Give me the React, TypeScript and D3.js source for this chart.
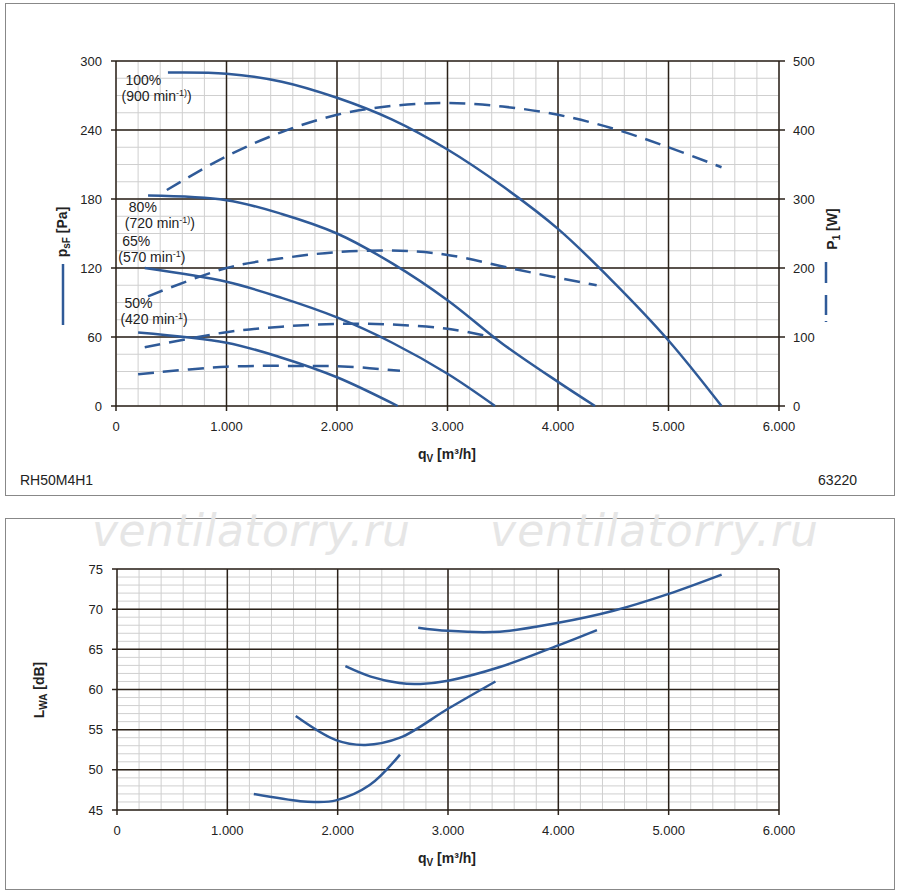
import * as d3 from 'd3';

type P = [number, number];

// pressure curves [q m3/h, psF Pa]
const PS100: P[] = [[470, 290], [1000, 289], [1500, 282], [2000, 268], [2500, 249], [3000, 223], [3500, 191], [4000, 154], [4500, 108], [5000, 57], [5480, 0]];
const PS80: P[] = [[290, 183], [1000, 179], [1500, 167], [2000, 150], [2500, 124], [3000, 92], [3500, 54], [4000, 21], [4335, 0]];
const PS65: P[] = [[260, 120], [1000, 108], [1500, 94], [2000, 77], [2500, 55], [3000, 28], [3430, 0]];
const PS50: P[] = [[200, 64], [1000, 55], [1500, 42], [2000, 25], [2550, 0]];
// power curves [q, P1 W]
const PW100: P[] = [[460, 313], [1000, 362], [1500, 397], [2000, 422], [2500, 435], [3000, 439], [3500, 434], [4000, 422], [4500, 402], [5000, 375], [5480, 346]];
const PW80: P[] = [[290, 159], [1000, 200], [1500, 214], [2000, 223], [2570, 225], [3000, 219], [3650, 197], [4350, 175]];
const PW65: P[] = [[260, 85], [1000, 107], [1500, 115], [2000, 119], [2500, 118], [3000, 112], [3430, 99]];
const PW50: P[] = [[200, 46], [1000, 57], [1670, 58], [2100, 57], [2570, 51]];
// sound power [q, LWA dB]
const L100: P[] = [[2730, 67.7], [3000, 67.3], [3470, 67.2], [4000, 68.3], [4500, 69.8], [5000, 71.9], [5480, 74.3]];
const L80: P[] = [[2070, 62.9], [2300, 61.6], [2560, 60.8], [2750, 60.7], [3000, 61.1], [3470, 62.8], [4000, 65.5], [4350, 67.4]];
const L65: P[] = [[1620, 56.7], [1985, 53.7], [2250, 53.1], [2565, 54], [3000, 57.6], [3430, 61]];
const L50: P[] = [[1240, 47], [1660, 46.1], [1800, 46], [1985, 46.2], [2290, 48.1], [2565, 51.9]];

const SPEED_LABELS = [
  { pct: '100%', rpm: '900', sup: '-1)', q: 50, p: 279 },
  { pct: '80%', rpm: '720', sup: '-1)', q: 80, p: 169 },
  { pct: '65%', rpm: '570', sup: '-1', q: 20, p: 139 },
  { pct: '50%', rpm: '420', sup: '-1', q: 40, p: 85 },
];

const X_TICKS = [0, 1000, 2000, 3000, 4000, 5000, 6000];
const PS_TICKS = [0, 60, 120, 180, 240, 300];
const PW_TICKS = [0, 100, 200, 300, 400, 500];
const L_TICKS = [45, 50, 55, 60, 65, 70, 75];

const BLUE = '#2f5a98';
const MAJOR = '#2a2118';
const MINOR = '#cfcfcf';
const FONT = 'Liberation Sans, Arial, sans-serif';
const fmt = (v: number) => (v === 0 ? '0' : d3.format(',')(v).replace(/,/g, '.'));

function Grid({ x, y, xMinor, yMinor, xMajor, yMajor }: any) {
  const [x0, x1] = x.range();
  const [y0, y1] = y.range();
  return (
    <g>
      {xMinor.map((v: number) => <line key={'xm' + v} x1={x(v)} x2={x(v)} y1={y0} y2={y1} stroke={MINOR} strokeWidth={1} />)}
      {yMinor.map((v: number) => <line key={'ym' + v} x1={x0} x2={x1} y1={y(v)} y2={y(v)} stroke={MINOR} strokeWidth={1} />)}
      {xMajor.map((v: number) => <line key={'xM' + v} x1={x(v)} x2={x(v)} y1={y0 + 5} y2={y1} stroke={MAJOR} strokeWidth={1.5} />)}
      {yMajor.map((v: number) => <line key={'yM' + v} x1={x0 - 5} x2={x1} y1={y(v)} y2={y(v)} stroke={MAJOR} strokeWidth={1.5} />)}
      {xMajor.map((v: number) => (
        <text key={'xl' + v} x={x(v)} y={y0 + 25} textAnchor="middle" fontSize={13} fill="#222">{fmt(v)}</text>
      ))}
      {yMajor.map((v: number) => (
        <text key={'yl' + v} x={x0 - 14} y={y(v) + 4.5} textAnchor="end" fontSize={13} fill="#222">{v}</text>
      ))}
    </g>
  );
}

export default function App() {
  const x1 = d3.scaleLinear().domain([0, 6000]).range([116, 779]);
  const yP = d3.scaleLinear().domain([0, 300]).range([406, 61]);
  const yW = d3.scaleLinear().domain([0, 500]).range([406, 61]);
  const x2 = d3.scaleLinear().domain([0, 6000]).range([117, 779]);
  const yL = d3.scaleLinear().domain([45, 75]).range([810, 569]);

  const xMinor = d3.range(0, 6001, 200);
  const lineP = d3.line<P>().x(d => x1(d[0])).y(d => yP(d[1])).curve(d3.curveCatmullRom);
  const lineW = d3.line<P>().x(d => x1(d[0])).y(d => yW(d[1])).curve(d3.curveCatmullRom);
  const lineL = d3.line<P>().x(d => x2(d[0])).y(d => yL(d[1])).curve(d3.curveCatmullRom);

  return (
    <svg width={900} height={894} style={{ position: 'absolute', left: 0, top: 0 }} fontFamily={FONT}>
      <rect x={0} y={0} width={900} height={894} fill="#fff" />
      <rect x={5.5} y={3.5} width={889} height={492} fill="none" stroke="#888" />
      <rect x={5.5} y={518.5} width={889} height={371} fill="none" stroke="#888" />

      {/* watermark */}
      <g fontSize={44} fontStyle="italic" fill="#e6e6e6" fontFamily="DejaVu Sans, sans-serif">
        <text x={92} y={546} textLength={318}>ventilatorry.ru</text>
        <text x={490} y={546} textLength={328}>ventilatorry.ru</text>
      </g>

      {/* top chart */}
      <Grid x={x1} y={yP} xMinor={xMinor} yMinor={d3.range(0, 301, 15)} xMajor={X_TICKS} yMajor={PS_TICKS} />
      {PW_TICKS.map(v => (
        <g key={'pw' + v}>
          <line x1={779} x2={785} y1={yW(v)} y2={yW(v)} stroke={MAJOR} strokeWidth={1.5} />
          <text x={793} y={yW(v) + 4.5} fontSize={13} fill="#222">{v}</text>
        </g>
      ))}
      {[PS100, PS80, PS65, PS50].map((d, i) => (
        <path key={'ps' + i} d={lineP(d)!} fill="none" stroke={BLUE} strokeWidth={2.5} />
      ))}
      {[PW100, PW80, PW65, PW50].map((d, i) => (
        <path key={'pw' + i} d={lineW(d)!} fill="none" stroke={BLUE} strokeWidth={2.5} strokeDasharray="16,9" />
      ))}
      {SPEED_LABELS.map(s => (
        <g key={s.pct} fontSize={14} fill="#222">
          <text x={x1(s.q) + 4} y={yP(s.p)}>{s.pct}</text>
          <text x={x1(s.q)} y={yP(s.p) + 16}>({s.rpm} min<tspan dy={-5} fontSize={9}>{s.sup}</tspan><tspan dy={5}>)</tspan></text>
        </g>
      ))}
      <text x={447} y={459} textAnchor="middle" fontSize={14} fontWeight="bold" fill="#222">
        q<tspan fontSize={10} dy={3}>V</tspan><tspan dy={-3}> [m³/h]</tspan>
      </text>
      <g transform="translate(67,232) rotate(-90)">
        <text x={0} y={0} textAnchor="middle" fontSize={14} fontWeight="bold" fill="#222">
          p<tspan fontSize={10} dy={3}>sF</tspan><tspan dy={-3}> [Pa]</tspan>
        </text>
      </g>
      <line x1={63} x2={63} y1={264} y2={325} stroke={BLUE} strokeWidth={2.5} />
      <g transform="translate(837,229) rotate(-90)">
        <text x={0} y={0} textAnchor="middle" fontSize={14} fontWeight="bold" fill="#222">
          P<tspan fontSize={10} dy={3}>1</tspan><tspan dy={-3}> [W]</tspan>
        </text>
      </g>
      <line x1={826} x2={826} y1={262} y2={325} stroke={BLUE} strokeWidth={2.5} strokeDasharray="21,12,20,6,1,100" />
      <text x={20} y={485} fontSize={14} fill="#222">RH50M4H1</text>
      <text x={857} y={485} textAnchor="end" fontSize={14} fill="#222">63220</text>

      {/* bottom chart */}
      <Grid x={x2} y={yL} xMinor={xMinor} yMinor={d3.range(45, 75.1, 1)} xMajor={X_TICKS} yMajor={L_TICKS} />
      {[L100, L80, L65, L50].map((d, i) => (
        <path key={'l' + i} d={lineL(d)!} fill="none" stroke={BLUE} strokeWidth={2.5} />
      ))}
      <text x={447} y={863} textAnchor="middle" fontSize={14} fontWeight="bold" fill="#222">
        q<tspan fontSize={10} dy={3}>V</tspan><tspan dy={-3}> [m³/h]</tspan>
      </text>
      <g transform="translate(44,690) rotate(-90)">
        <text x={0} y={0} textAnchor="middle" fontSize={14} fontWeight="bold" fill="#222">
          L<tspan fontSize={10} dy={3}>WA</tspan><tspan dy={-3}> [dB]</tspan>
        </text>
      </g>
    </svg>
  );
}
